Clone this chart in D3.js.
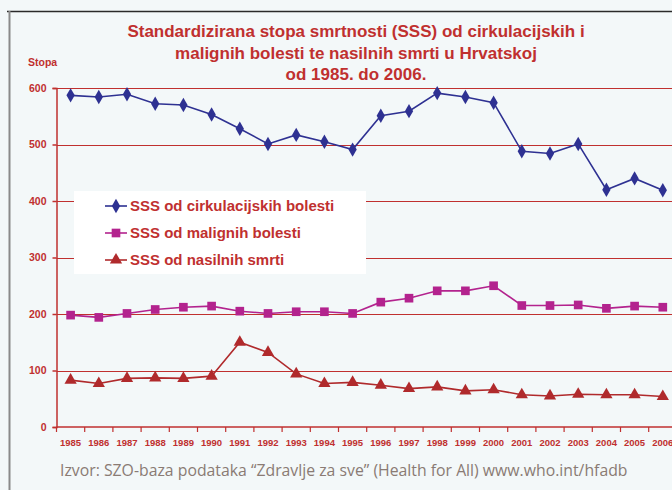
<!DOCTYPE html>
<html>
<head>
<meta charset="utf-8">
<script src="https://cdn.jsdelivr.net/npm/d3@7"></script>
<style>
  body { margin: 0; background: #f3f8f9; }
  svg { display: block; }
</style>
</head>
<body>
<svg id="chart" width="672" height="490"></svg>
<script>
// data
const years = ["1985","1986","1987","1988","1989","1990","1991","1992","1993","1994","1995",
  "1996","1997","1998","1999","2000","2001","2002","2003","2004","2005","2006"];
const circulatory = [587, 584, 589, 572, 570, 553, 528, 501, 517, 505, 491,
  551, 559, 591, 584, 574, 488, 484, 501, 420, 440, 419];
const malignant = [198, 194, 201, 208, 212, 214, 205, 201, 204, 204, 201,
  221, 228, 241, 241, 250, 215, 215, 216, 210, 214, 212];
const violent = [83, 77, 86, 87, 86, 90, 150, 132, 94, 77, 79,
  74, 68, 71, 64, 66, 57, 55, 58, 57, 57, 54];
const yTicks = [0, 100, 200, 300, 400, 500, 600];

const titleLines = [
  "Standardizirana stopa smrtnosti (SSS) od cirkulacijskih i",
  "malignih bolesti te nasilnih smrti u Hrvatskoj",
  "od 1985. do 2006."
];

const red = "#c0302f";
const series = [
  { name: "SSS od cirkulacijskih bolesti", values: circulatory, color: "#2e3192", symbol: d3.symbolDiamond, size: 60 },
  { name: "SSS od malignih bolesti", values: malignant, color: "#b3238e", symbol: d3.symbolSquare, size: 75 },
  { name: "SSS od nasilnih smrti", values: violent, color: "#b02a2c", symbol: d3.symbolTriangle, size: 65 }
];

const svg = d3.select("#chart");
const margin = { top: 88, left: 56.5, bottom: 427 };

const x = d3.scaleBand().domain(years).range([margin.left, margin.left + 28.2 * years.length]);
const y = d3.scaleLinear().domain([0, 600]).range([margin.bottom, margin.top]);

// frame
svg.append("line").attr("x1", 7).attr("x2", 672).attr("y1", 11.5).attr("y2", 11.5)
  .attr("stroke", "#2a2a2a").attr("stroke-width", 1.5);
svg.append("line").attr("x1", 9.5).attr("x2", 9.5).attr("y1", 11).attr("y2", 490)
  .attr("stroke", "#8a8a8a").attr("stroke-width", 2);

// title
svg.append("g").selectAll("text").data(titleLines).join("text")
  .attr("x", 356).attr("y", (d, i) => 37 + i * 21.5)
  .attr("text-anchor", "middle")
  .attr("font-family", "Liberation Sans, Arial, sans-serif")
  .attr("font-weight", "bold").attr("font-size", 17)
  .attr("fill", red)
  .text(d => d);

svg.append("text").attr("x", 28).attr("y", 66)
  .attr("font-family", "Liberation Sans, Arial, sans-serif")
  .attr("font-weight", "bold").attr("font-size", 10.5).attr("fill", red)
  .text("Stopa");

// grid
svg.append("g").selectAll("line").data(yTicks.filter(d => d > 0)).join("line")
  .attr("x1", margin.left).attr("x2", 672)
  .attr("y1", d => Math.round(y(d)) + 0.5).attr("y2", d => Math.round(y(d)) + 0.5)
  .attr("stroke", red).attr("stroke-width", 1.2);

// y axis
const gy = svg.append("g")
  .attr("transform", `translate(${margin.left},0)`)
  .call(d3.axisLeft(y).tickValues(yTicks).tickSize(4).tickPadding(6));
gy.selectAll("path, line").attr("stroke", red).attr("stroke-width", 1.5);
gy.selectAll("text").attr("fill", red)
  .attr("font-family", "Liberation Sans, Arial, sans-serif")
  .attr("font-weight", "bold").attr("font-size", 10.5);

// x axis with ticks on band boundaries
const gx = svg.append("g").attr("transform", `translate(0,${margin.bottom})`);
gx.append("line").attr("x1", margin.left).attr("x2", 672)
  .attr("stroke", red).attr("stroke-width", 1.5);
gx.selectAll(".tk").data(years.concat(["end"])).join("line")
  .attr("x1", (d, i) => margin.left + i * x.step())
  .attr("x2", (d, i) => margin.left + i * x.step())
  .attr("y1", 0).attr("y2", 5)
  .attr("stroke", red).attr("stroke-width", 1.2);
gx.selectAll("text").data(years).join("text")
  .attr("x", d => x(d) + x.bandwidth() / 2).attr("y", 19)
  .attr("text-anchor", "middle")
  .attr("font-family", "Liberation Sans, Arial, sans-serif")
  .attr("font-weight", "bold").attr("font-size", 9.5).attr("fill", red)
  .text(d => d);

// lines + markers
const line = d3.line()
  .x((d, i) => x(years[i]) + x.bandwidth() / 2)
  .y(d => y(d));

series.forEach(s => {
  svg.append("path").datum(s.values)
    .attr("fill", "none").attr("stroke", s.color).attr("stroke-width", 1.6)
    .attr("d", line);
  svg.append("g").selectAll("path").data(s.values).join("path")
    .attr("transform", (d, i) => `translate(${x(years[i]) + x.bandwidth() / 2},${y(d)})`)
    .attr("d", d3.symbol().type(s.symbol).size(s.size))
    .attr("fill", s.color);
});

// legend
const legend = svg.append("g");
legend.append("rect").attr("x", 74).attr("y", 191).attr("width", 292).attr("height", 83)
  .attr("fill", "#ffffff");
series.forEach((s, i) => {
  const ly = 206 + i * 27;
  legend.append("line").attr("x1", 105).attr("x2", 127).attr("y1", ly).attr("y2", ly)
    .attr("stroke", s.color).attr("stroke-width", 1.6);
  legend.append("path").attr("transform", `translate(116,${ly})`)
    .attr("d", d3.symbol().type(s.symbol).size(s.size)).attr("fill", s.color);
  legend.append("text").attr("x", 130).attr("y", ly + 5)
    .attr("font-family", "Liberation Sans, Arial, sans-serif")
    .attr("font-weight", "bold").attr("font-size", 15).attr("fill", red)
    .text(s.name);
});

// source
svg.append("text").attr("x", 60).attr("y", 476)
  .attr("font-family", "Open Sans, Noto Sans, sans-serif")
  .attr("font-size", 15.8).attr("fill", "#8a7b74")
  .text("Izvor: SZO-baza podataka “Zdravlje za sve” (Health for All) www.who.int/hfadb");
</script>
</body>
</html>
